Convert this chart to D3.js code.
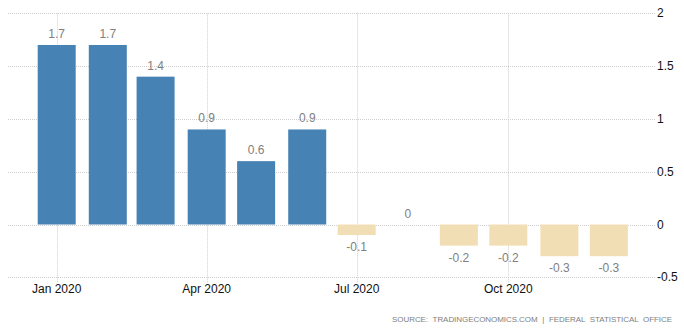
<!DOCTYPE html>
<html><head><meta charset="utf-8">
<script src="https://cdn.jsdelivr.net/npm/d3@7"></script>
<style>body{margin:0;background:#fff}svg{display:block}</style>
</head><body><svg id="c" width="684" height="330"></svg>
<script>
const months = ["2020-01","2020-02","2020-03","2020-04","2020-05","2020-06","2020-07","2020-08","2020-09","2020-10","2020-11","2020-12"];
const values = [1.7,1.7,1.4,0.9,0.6,0.9,-0.1,0,-0.2,-0.2,-0.3,-0.3];
const yTicks = [2,1.5,1,0.5,0,-0.5];
const xTickLabels = ["Jan 2020","Apr 2020","Jul 2020","Oct 2020"];
const xTickMonths = ["2020-01","2020-04","2020-07","2020-10"];
const sourceText = "SOURCE: TRADINGECONOMICS.COM | FEDERAL STATISTICAL OFFICE";

const parse = d3.timeParse("%Y-%m");
const svg = d3.select("#c");
const left = 8, right = 655;
const x = d3.scaleTime().domain([parse("2020-01"), parse("2020-10")]).range([56.7, 508.3]);
const y = d3.scaleLinear().domain([-0.5, 2]).range([277.3, 13.3]);
const barW = 38;

// grid
svg.append("g").selectAll("line").data(yTicks).join("line")
  .attr("x1", left).attr("x2", right)
  .attr("y1", d => Math.round(y(d)) + 0.5).attr("y2", d => Math.round(y(d)) + 0.5)
  .attr("stroke", "#cfcfcf").attr("stroke-dasharray", "1,1");
svg.append("g").selectAll("line").data(xTickMonths).join("line")
  .attr("x1", d => Math.round(x(parse(d))) + 0.5).attr("x2", d => Math.round(x(parse(d))) + 0.5)
  .attr("y1", y(2)).attr("y2", y(-0.5) + 6)
  .attr("stroke", "#cfcfcf").attr("stroke-dasharray", "1,1");

// bars
svg.append("g").selectAll("rect").data(values).join("rect")
  .attr("x", (d, i) => x(parse(months[i])) - barW / 2)
  .attr("width", barW)
  .attr("y", d => y(Math.max(0, d)))
  .attr("height", d => Math.abs(y(d) - y(0)))
  .attr("fill", d => d >= 0 ? "#4682b4" : "#f2deb5");

// value labels
svg.append("g").selectAll("text").data(values).join("text")
  .attr("x", (d, i) => x(parse(months[i])))
  .attr("y", d => d >= 0 ? y(d) - 7 : y(d) + 16)
  .attr("text-anchor", "middle")
  .attr("font-family", "Liberation Sans, Arial, sans-serif")
  .attr("font-size", 12).attr("fill", "#808080")
  .text(d => String(d));

// y labels
svg.append("g").selectAll("text").data(yTicks).join("text")
  .attr("x", 657).attr("y", d => y(d) + 4)
  .attr("font-family", "Liberation Sans, Arial, sans-serif")
  .attr("font-size", 12).attr("fill", "#111")
  .text(d => String(d));

// x labels
svg.append("g").selectAll("text").data(xTickLabels).join("text")
  .attr("x", (d, i) => x(parse(xTickMonths[i])))
  .attr("y", 293)
  .attr("text-anchor", "middle")
  .attr("font-family", "Liberation Sans, Arial, sans-serif")
  .attr("font-size", 12).attr("fill", "#111")
  .text(d => d);

// source
const src = svg.append("text")
  .attr("x", 672).attr("y", 322)
  .attr("text-anchor", "end")
  .attr("font-family", "Liberation Sans, Arial, sans-serif")
  .attr("font-size", 8).attr("fill", "#808080")
  .style("letter-spacing", "0px")
  .style("word-spacing", "2.5px")
  .text(sourceText);
const nChars = sourceText.length;
const target = 280;
let ls = 0;
for (let k = 0; k < 3; k++) {
  const w = src.node().getBBox().width;
  ls = ls + (target - w) / nChars;
  src.style("letter-spacing", ls + "px");
}
</script></body></html>
